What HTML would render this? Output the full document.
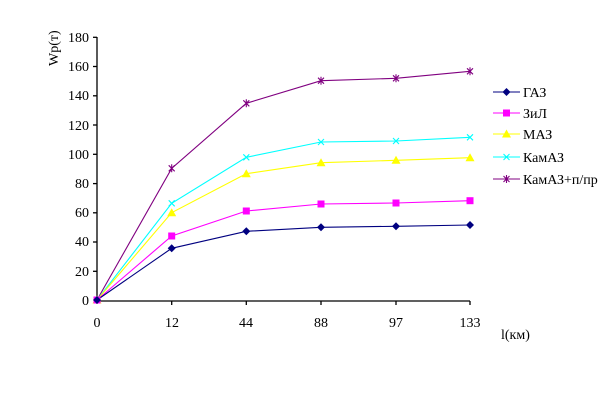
<!DOCTYPE html>
<html><head><meta charset="utf-8"><style>
html,body{margin:0;padding:0;background:#fff;}
svg{display:block;}
text{font-family:"Liberation Serif",serif;font-size:14px;fill:#000;}
</style></head><body>
<svg width="614" height="400" viewBox="0 0 614 400" xmlns="http://www.w3.org/2000/svg">
<defs>
<g id="dia"><path d="M0,-4 L4,0 L0,4 L-4,0Z" fill="#000080"/></g>
<g id="sq"><rect x="-3.5" y="-3.5" width="7" height="7" fill="#ff00ff"/></g>
<g id="tri"><path d="M0,-4.5 L4.5,3.5 L-4.5,3.5Z" fill="#ffff00"/></g>
<g id="x"><path d="M-3,-3 L3,3 M-3,3 L3,-3" stroke="#00ffff" stroke-width="1.1"/></g>
<g id="st"><path d="M-3,-3 L3,3 M-3,3 L3,-3 M0,-4 L0,4" stroke="#800080" stroke-width="1.1"/></g>
</defs>
<g stroke="#000" stroke-width="1.3" fill="none">
<line x1="97" y1="37" x2="97" y2="301"/>
<line x1="97" y1="301" x2="470" y2="301"/>
<line x1="93" y1="37.3" x2="97" y2="37.3"/><line x1="93" y1="66.5" x2="97" y2="66.5"/><line x1="93" y1="95.8" x2="97" y2="95.8"/>
<line x1="93" y1="125" x2="97" y2="125"/><line x1="93" y1="154.3" x2="97" y2="154.3"/><line x1="93" y1="183.6" x2="97" y2="183.6"/>
<line x1="93" y1="212.8" x2="97" y2="212.8"/><line x1="93" y1="242" x2="97" y2="242"/><line x1="93" y1="271.3" x2="97" y2="271.3"/>
<line x1="171.7" y1="301" x2="171.7" y2="305"/><line x1="246.3" y1="301" x2="246.3" y2="305"/><line x1="321" y1="301" x2="321" y2="305"/>
<line x1="396" y1="301" x2="396" y2="305"/><line x1="470" y1="301" x2="470" y2="305"/>
</g>
<g text-anchor="end">
<text x="89" y="42">180</text><text x="89" y="71">160</text><text x="89" y="100">140</text><text x="89" y="130">120</text>
<text x="89" y="159">100</text><text x="89" y="188">80</text><text x="89" y="217">60</text><text x="89" y="246">40</text>
<text x="89" y="276">20</text><text x="89" y="305">0</text>
</g>
<g text-anchor="middle">
<text x="97" y="327">0</text><text x="172" y="327">12</text><text x="246" y="327">44</text>
<text x="321" y="327">88</text><text x="396" y="327">97</text><text x="470" y="327">133</text>
</g>
<text x="501" y="339">l(км)</text>
<text transform="translate(58,66) rotate(-90)">Wp(т)</text>
<g fill="none" stroke-width="1.1">
<polyline stroke="#800080" points="97,300 171.7,168.3 246.3,103.3 321,80.7 396,78.3 470,71.3"/>
<polyline stroke="#00ffff" points="97,300 171.7,203.3 246.3,157.3 321,142 396,141 470,137.3"/>
<polyline stroke="#ffff00" points="97,300 171.7,212.7 246.3,173.7 321,162.7 396,160.3 470,157.7"/>
<polyline stroke="#ff00ff" points="97,300 171.7,236 246.3,211 321,204 396,203 470,200.7"/>
<polyline stroke="#000080" points="97,300 171.7,248.3 246.3,231.3 321,227.3 396,226.3 470,225"/>
</g>
<use href="#st" x="97" y="300"/><use href="#st" x="171.7" y="168.3"/><use href="#st" x="246.3" y="103.3"/><use href="#st" x="321" y="80.7"/><use href="#st" x="396" y="78.3"/><use href="#st" x="470" y="71.3"/>
<use href="#x" x="97" y="300"/><use href="#x" x="171.7" y="203.3"/><use href="#x" x="246.3" y="157.3"/><use href="#x" x="321" y="142"/><use href="#x" x="396" y="141"/><use href="#x" x="470" y="137.3"/>
<use href="#tri" x="97" y="300"/><use href="#tri" x="171.7" y="212.7"/><use href="#tri" x="246.3" y="173.7"/><use href="#tri" x="321" y="162.7"/><use href="#tri" x="396" y="160.3"/><use href="#tri" x="470" y="157.7"/>
<use href="#sq" x="97" y="300"/><use href="#sq" x="171.7" y="236"/><use href="#sq" x="246.3" y="211"/><use href="#sq" x="321" y="204"/><use href="#sq" x="396" y="203"/><use href="#sq" x="470" y="200.7"/>
<use href="#dia" x="97" y="300"/><use href="#dia" x="171.7" y="248.3"/><use href="#dia" x="246.3" y="231.3"/><use href="#dia" x="321" y="227.3"/><use href="#dia" x="396" y="226.3"/><use href="#dia" x="470" y="225"/>
<g stroke-width="1.1">
<line x1="493" y1="92" x2="520" y2="92" stroke="#000080"/><use href="#dia" x="506.5" y="92"/>
<line x1="493" y1="113" x2="520" y2="113" stroke="#ff00ff"/><use href="#sq" x="506.5" y="113"/>
<line x1="493" y1="134" x2="520" y2="134" stroke="#ffff00"/><use href="#tri" x="506.5" y="134"/>
<line x1="493" y1="157" x2="520" y2="157" stroke="#00ffff"/><use href="#x" x="506.5" y="157"/>
<line x1="493" y1="179" x2="520" y2="179" stroke="#800080"/><use href="#st" x="506.5" y="179"/>
</g>
<text x="523" y="97">ГАЗ</text>
<text x="523" y="118">ЗиЛ</text>
<text x="523" y="139">МАЗ</text>
<text x="523" y="162">КамАЗ</text>
<text x="523" y="184">КамАЗ+п/пр</text>
</svg>
</body></html>
